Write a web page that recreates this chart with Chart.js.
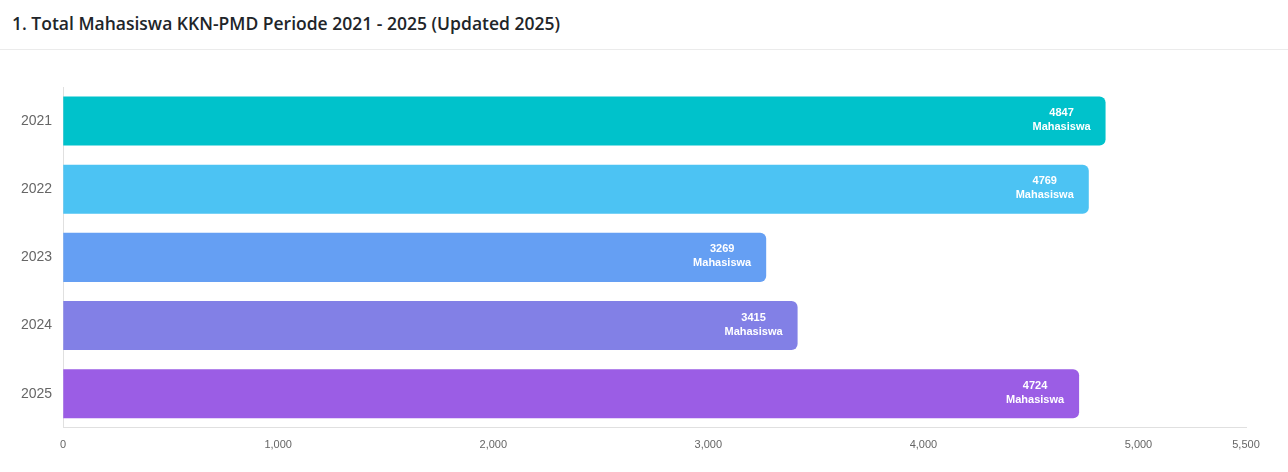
<!DOCTYPE html>
<html>
<head>
<meta charset="utf-8">
<script src="https://cdn.jsdelivr.net/npm/chart.js@4.4.1/dist/chart.umd.min.js"></script>
<style>
  html, body { margin: 0; padding: 0; background: #fff; }
  body { width: 1288px; height: 472px; overflow: hidden; position: relative; }
  .card-header {
    height: 50px; box-sizing: border-box; border-bottom: 1px solid #ebebeb;
    padding: 12px 12px 0 12px;
  }
  .card-header h3 {
    margin: 0; font-family: "Open Sans", sans-serif; font-weight: 600;
    font-size: 17.5px; color: #212529; line-height: 22px;
  }
  .chart-wrap { position: absolute; left: 0; top: 51px; width: 1288px; height: 421px; }
</style>
</head>
<body>
<div class="card-header"><h3>1. Total Mahasiswa KKN-PMD Periode 2021 - 2025 (Updated 2025)</h3></div>
<div class="chart-wrap"><canvas id="kknChart"></canvas></div>
<script>
// ---- Data ----
const years = ['2021', '2022', '2023', '2024', '2025'];
const totals = [4847, 4769, 3269, 3415, 4724];
const barColors = ['#00C2CB', '#4CC3F3', '#659FF3', '#8280E6', '#9B5DE5'];
const xTicks = [0, 1000, 2000, 3000, 4000, 5000, 5500];
const unitLabel = 'Mahasiswa';

// ---- Label inside bar end (two lines) ----
const barLabels = {
  id: 'barLabels',
  afterDatasetsDraw(chart) {
    const { ctx } = chart;
    const meta = chart.getDatasetMeta(0);
    ctx.save();
    ctx.font = 'bold 11px "Liberation Sans", Arial, sans-serif';
    ctx.fillStyle = '#ffffff';
    ctx.textAlign = 'center';
    ctx.textBaseline = 'middle';
    meta.data.forEach((bar, i) => {
      const lines = [String(totals[i]), unitLabel];
      const w = Math.max(...lines.map(l => ctx.measureText(l).width));
      const cx = bar.x - 15 - w / 2;
      ctx.fillText(lines[0], cx, bar.y - 8);
      ctx.fillText(lines[1], cx, bar.y + 6);
    });
    ctx.restore();
  }
};

new Chart(document.getElementById('kknChart'), {
  type: 'bar',
  data: {
    labels: years,
    datasets: [{
      data: totals,
      backgroundColor: barColors,
      borderRadius: 6,
      borderSkipped: 'start',
      categoryPercentage: 0.8,
      barPercentage: 0.9
    }]
  },
  options: {
    indexAxis: 'y',
    responsive: true,
    maintainAspectRatio: false,
    animation: false,
    layout: { padding: { top: 36, right: 42, bottom: 17, left: 18 } },
    plugins: { legend: { display: false }, tooltip: { enabled: false } },
    scales: {
      x: {
        min: xTicks[0], max: xTicks[xTicks.length - 1],
        grid: { display: false },
        border: { color: '#e0e0e0' },
        afterBuildTicks: (scale) => { scale.ticks = xTicks.map(v => ({ value: v })); },
        ticks: {
          color: '#666',
          font: { family: '"Liberation Sans", Arial', size: 11 },
          padding: 3,
          callback: (value) => value.toLocaleString('en-US')
        }
      },
      y: {
        grid: { display: false },
        border: { color: '#e0e0e0' },
        ticks: {
          color: '#666',
          font: { family: '"Liberation Sans", Arial', size: 14 },
          padding: 3
        }
      }
    }
  },
  plugins: [barLabels]
});
</script>
</body>
</html>
